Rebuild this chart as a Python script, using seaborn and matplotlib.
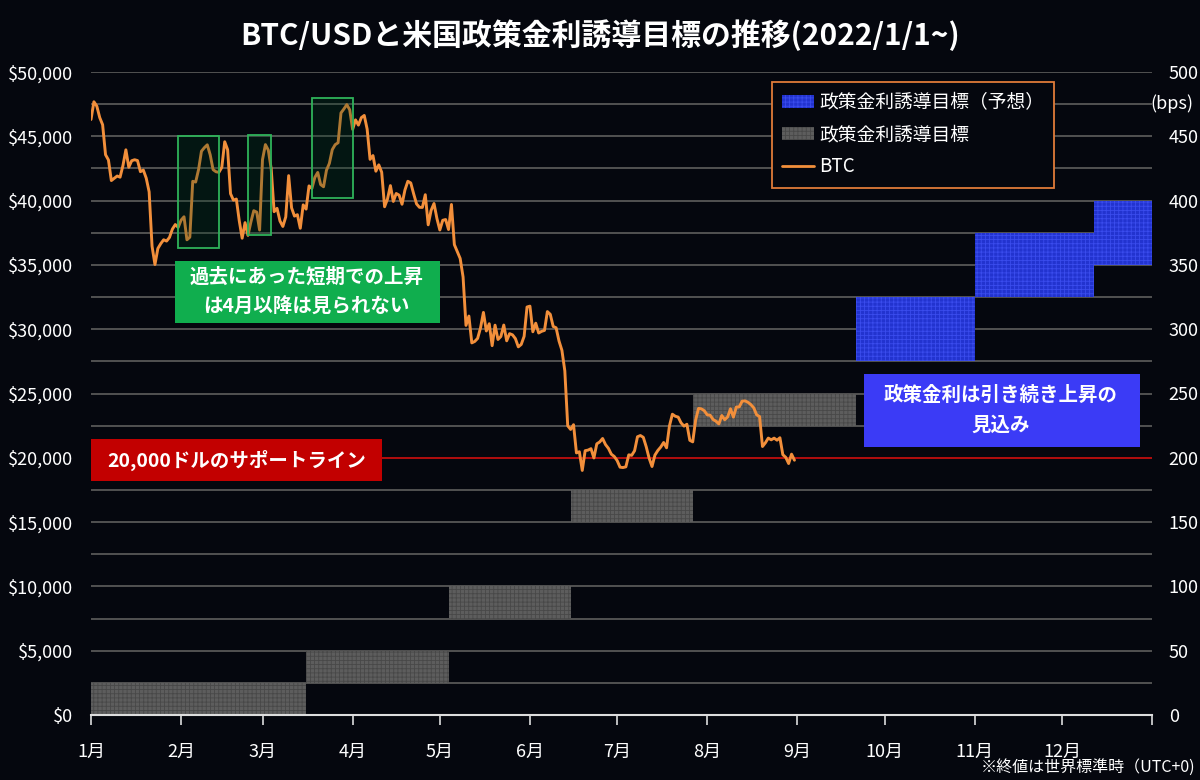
import pandas as pd
import numpy as np
import matplotlib.pyplot as plt
import matplotlib.dates as mdates
from matplotlib.patches import Patch, Rectangle
from matplotlib.lines import Line2D
from matplotlib.ticker import MultipleLocator, FuncFormatter
import seaborn as sns

# ------------------------------------------------------------------
# データ
# ------------------------------------------------------------------
start_date = '2022-01-01'
btc = [
    46306, 47686, 47345, 46458, 45897, 43569, 43160, 41558, 41734, 41912,
    41821, 42736, 43949, 42592, 43099, 43177, 43113, 42250, 42375, 41744,
    40681, 36458, 35031, 36276, 36654, 36954, 36852, 37138, 37784, 38138,
    37917,
    38483, 38743, 36952, 37154, 41500, 41441, 42412, 43840, 44118, 44338,
    43565, 42407, 42244, 42197, 42586, 44575, 43961, 40538, 40031, 40122,
    38431, 37075, 38286, 37296, 38332, 39214, 39105, 37710,
    43193, 44354, 43925, 42451, 39137, 39400, 38420, 37988, 38730, 41941,
    39438, 38795, 38904, 37850, 39666, 39339, 41143, 40951, 41801, 42191,
    41247, 41077, 42358, 42892, 43961, 44349, 44500, 46820, 47128, 47465,
    47062,
    45538, 46281, 45868, 46453, 46622, 45555, 43206, 43503, 42287, 42782,
    42207, 39521, 40127, 41166, 39936, 40552, 40424, 39716, 40826, 41502,
    41374, 40527, 39740, 39478, 39469, 40458, 38117, 39241, 39773, 38610,
    37714, 38469, 38529, 37750, 39698, 36575, 36040, 35501, 34059, 30296,
    31022, 28936, 29047, 29283, 30101, 31306, 29862, 30425, 28720, 30314,
    29200, 29432, 30323, 29098, 29655, 29562, 29267, 28627, 28814, 29445,
    31726,
    31792, 29799, 30467, 29704, 29832, 29906, 31370, 31155, 30214, 30112,
    29083, 28360, 26762, 22487, 22206, 22572, 20381, 20471, 19017, 20553,
    20599, 20710, 19987, 21085, 21231, 21502, 21028, 20735, 20280, 20104,
    19785, 19269, 19242, 19297, 20231, 20190, 20548, 21637, 21731, 21592,
    20860, 19970, 19323, 20212, 20569, 20836, 21190, 20779, 22485, 23389,
    23231, 23164, 22714, 22465, 22609, 21361, 21239, 22930, 23843, 23804,
    23656,
    23336, 23314, 22978, 22846, 22630, 23289, 22961, 23175, 23810, 23164,
    23948, 23957, 24403, 24424, 24319, 24136, 23883, 23336, 23213, 20877,
    21166, 21534, 21398, 21529, 21369, 21560, 20241, 20037, 19555, 20285,
    19812,
]

# 政策金利誘導目標 (bps)
rate_start = ['2022-01-01', '2022-03-16', '2022-05-04', '2022-06-15', '2022-07-27']
rate_end = ['2022-03-16', '2022-05-04', '2022-06-15', '2022-07-27', '2022-09-21']
rate_low = [0, 25, 75, 150, 225]
rate_high = [25, 50, 100, 175, 250]

# 政策金利誘導目標（予想）
proj_start = ['2022-09-21', '2022-11-01', '2022-12-12']
proj_end = ['2022-11-01', '2022-12-12', '2023-01-01']
proj_low = [275, 325, 350]
proj_high = [325, 375, 400]

# 短期上昇の枠
spike_start = ['2022-01-31', '2022-02-24', '2022-03-18']
spike_end = ['2022-02-14', '2022-03-04', '2022-04-01']
spike_low = [36350, 37320, 40230]
spike_high = [45020, 45080, 48000]

support_level = 20000
month_labels = ['1月', '2月', '3月', '4月', '5月', '6月', '7月', '8月',
                '9月', '10月', '11月', '12月', '']

# ------------------------------------------------------------------
# スタイル
# ------------------------------------------------------------------
bg = '#05070e'
sns.set_theme(style='dark')
plt.rcParams['font.family'] = ['Noto Sans CJK JP', 'DejaVu Sans']
plt.rcParams['hatch.linewidth'] = 0.6
plt.rcParams['axes.unicode_minus'] = False

fig = plt.figure(figsize=(12, 7.8), dpi=100, facecolor=bg)
ax2 = fig.add_axes([91 / 1200, 1 - 715 / 780, 1061 / 1200, 643 / 780])
ax = ax2.twinx()
ax2.yaxis.tick_right()
ax.yaxis.tick_left()
ax.yaxis.set_label_position('left')
ax.set_zorder(2)
ax2.set_zorder(1)
ax.patch.set_visible(False)
ax2.set_facecolor(bg)

df = pd.DataFrame({'date': pd.date_range(start_date, periods=len(btc), freq='D'),
                   'btc': btc})

def d(s):
    return mdates.date2num(pd.Timestamp(s))

# 金利ブロック (右軸)
for s, e, lo, hi in zip(rate_start, rate_end, rate_low, rate_high):
    ax2.bar(d(s), hi - lo, bottom=lo, width=d(e) - d(s), align='edge',
            color='#5d5d5d', edgecolor='#484848', hatch='++++', linewidth=0, zorder=2)
for s, e, lo, hi in zip(proj_start, proj_end, proj_low, proj_high):
    ax2.bar(d(s), hi - lo, bottom=lo, width=d(e) - d(s), align='edge',
            color='#2233cf', edgecolor='#3a4ced', hatch='++++', linewidth=0, zorder=2)

ax2.set_ylim(0, 500)
ax2.yaxis.set_major_locator(MultipleLocator(50))
ax2.yaxis.set_minor_locator(MultipleLocator(25))
ax2.grid(which='both', axis='y', color='#575757', linewidth=1.3, zorder=0)
ax2.grid(axis='x', visible=False)
ax2.tick_params(axis='y', which='both', length=0, colors='white', labelsize=13, pad=12)
ax2.text(1.019, 475, '(bps)', transform=ax2.get_yaxis_transform(),
         ha='center', va='center', color='white', fontsize=13)

# x軸 (共有)
ticks = pd.date_range('2022-01-01', '2023-01-01', freq='MS')
ax2.set_xlim(d('2022-01-01'), d('2023-01-01'))
ax2.set_xticks(mdates.date2num(ticks))
ax2.set_xticklabels(month_labels)
ax2.tick_params(axis='x', bottom=True, length=7, width=1.2, direction='out',
                color='#dddddd', labelcolor='white', labelsize=13, pad=13)

# BTC (左軸)
ax.axhline(support_level, color='#c00000', linewidth=1.2, zorder=1)
sns.lineplot(data=df, x='date', y='btc', ax=ax, color='#f28f3b', linewidth=2.1, zorder=3)

for s, e, lo, hi in zip(spike_start, spike_end, spike_low, spike_high):
    ax.add_patch(Rectangle((d(s), lo), d(e) - d(s), hi - lo,
                           facecolor=(0.0, 0.25, 0.12, 0.28), edgecolor='#2fb35a',
                           linewidth=1.3, zorder=4))

# 注釈ボックス
ax.add_patch(Rectangle((d('2022-01-30'), 30480), d('2022-05-01') - d('2022-01-30'), 4820,
                       facecolor='#10ae4e', edgecolor='none', zorder=5))
ax.text(d('2022-03-16'), 32900, '過去にあった短期での上昇\nは4月以降は見られない',
        ha='center', va='center', color='white', fontsize=14, fontweight='bold',
        linespacing=1.7, zorder=6)

ax.add_patch(Rectangle((d('2022-01-01'), 18200), d('2022-04-11') - d('2022-01-01'), 3260,
                       facecolor='#c20000', edgecolor='none', zorder=5))
ax.text(d('2022-02-20'), 19830, '20,000ドルのサポートライン',
        ha='center', va='center', color='white', fontsize=14, fontweight='bold', zorder=6)

ax.add_patch(Rectangle((d('2022-09-24'), 20840), d('2022-12-28') - d('2022-09-24'), 5680,
                       facecolor='#3b3bf6', edgecolor='none', zorder=5))
ax.text(d('2022-11-10'), 23700, '政策金利は引き続き上昇の\n見込み',
        ha='center', va='center', color='white', fontsize=14, fontweight='bold',
        linespacing=1.7, zorder=6)

ax.set_ylim(0, 50000)
ax.yaxis.set_major_locator(MultipleLocator(5000))
ax.yaxis.set_major_formatter(FuncFormatter(lambda v, p: f'${v:,.0f}'))
ax.tick_params(axis='y', length=0, colors='white', labelsize=13, pad=13)
ax.set_xlabel('')
ax.set_ylabel('')
ax2.set_ylabel('')
ax.grid(False)
for a in (ax, ax2):
    for sp in a.spines.values():
        sp.set_visible(False)
ax2.spines['bottom'].set_visible(True)
ax2.spines['bottom'].set_color('#dddddd')
ax2.spines['bottom'].set_linewidth(1.5)

# 凡例
handles = [
    Patch(facecolor='#2233cf', edgecolor='#3a4ced', hatch='++++', linewidth=0),
    Patch(facecolor='#5d5d5d', edgecolor='#484848', hatch='++++', linewidth=0),
    Line2D([0], [0], color='#f28f3b', linewidth=2),
]
labels = ['政策金利誘導目標（予想）', '政策金利誘導目標', 'BTC']
leg = ax.legend(handles, labels, loc='upper left', bbox_to_anchor=(0.642, 0.985),
                borderaxespad=0, frameon=True, fontsize=13.5, labelcolor='white',
                facecolor=bg, edgecolor='#e07b39', framealpha=1, fancybox=False,
                handlelength=1.7, handletextpad=0.25, borderpad=0.55, labelspacing=0.6)
leg.get_frame().set_linewidth(1.3)
leg.set_zorder(10)

fig.text(0.5, 1 - 35 / 780, 'BTC/USDと米国政策金利誘導目標の推移(2022/1/1~)',
         ha='center', va='center', color='white', fontsize=21.5, fontweight='bold')
fig.text(1195 / 1200, 1 - 767 / 780, '※終値は世界標準時（UTC+0)',
         ha='right', va='center', color='white', fontsize=11.5)

plt.savefig('out.png', dpi=100, facecolor=bg)
